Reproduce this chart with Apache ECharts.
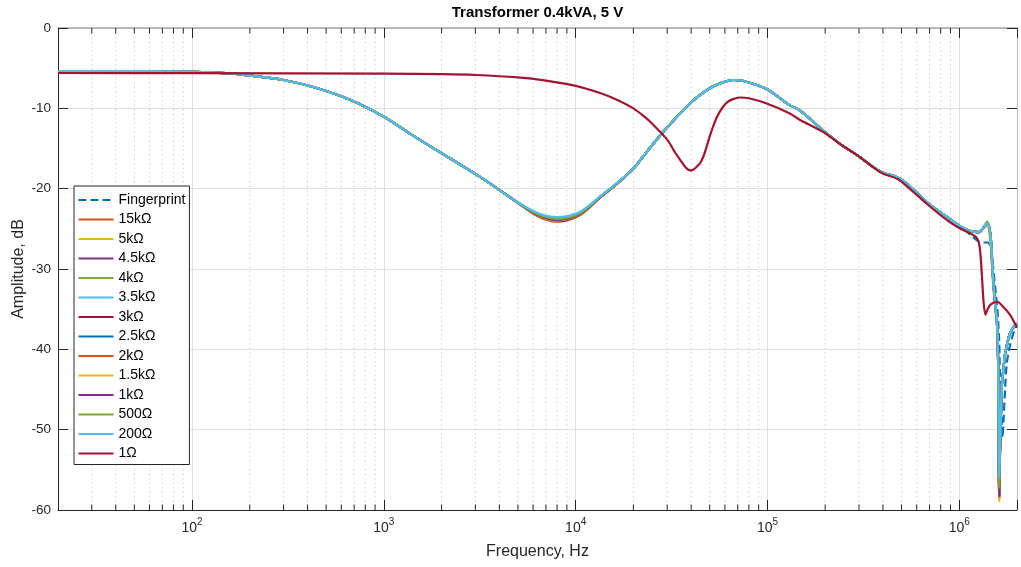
<!DOCTYPE html>
<html>
<head>
<meta charset="utf-8">
<title>Transformer 0.4kVA, 5 V</title>
<script src="https://cdn.jsdelivr.net/npm/echarts@6/dist/echarts.min.js"></script>
<style>
  html, body { margin: 0; padding: 0; background: #ffffff; }
  #chart { width: 1021px; height: 567px; }
</style>
</head>
<body>
<div id="chart"></div>
<script>
// Frequency grid (Hz) shared by the fingerprint and the resistor sweep
const freqHz = [20, 60, 100, 150, 200, 300, 450, 670, 1000, 1400,
  2100, 3200, 4700, 6300, 8000, 10500, 13400, 16500, 20000, 23000,
  27500, 39400, 50000, 58000, 66000, 75000, 99000, 130000, 148000, 194000,
  237000, 292000, 390000, 477000, 540000, 686000, 873000, 1000000, 1150000, 1270000,
  1350000, 1400000, 1450000, 1480000, 1510000, 1550000, 1580000, 1600000, 1615000, 1630000,
  1665000, 1680000, 1700000, 1733000, 1770000, 1840000, 1950000, 2000000];

// Amplitude (dB) per termination
const fingerprint = [-5.35, -5.38, -5.45, -5.62, -5.92, -6.47, -7.5, -8.96, -11.05, -13.3,
  -15.9, -18.6, -21.3, -23.2, -23.8, -23.1, -21.0, -19.3, -17.5, -15.7,
  -13.4, -9.4, -7.5, -6.8, -6.47, -6.6, -7.6, -9.6, -10.3, -12.7,
  -14.35, -15.8, -17.9, -18.6, -19.5, -21.8, -23.6, -24.6, -25.8, -26.6,
  -26.7, -26.7, -27.1, -28.2, -30.3, -33.0, -35.1, -37.0, -39.0, -43.0,
  -49.0, -51.0, -49.0, -45.0, -41.7, -39.5, -37.4, -37.0];
const r15k = [-5.35, -5.38, -5.45, -5.62, -5.92, -6.47, -7.5, -8.96, -11.05, -13.3,
  -15.9, -18.6, -21.3, -23.4, -24.1, -23.3, -21.1, -19.35, -17.5, -15.7,
  -13.4, -9.4, -7.5, -6.8, -6.47, -6.6, -7.6, -9.6, -10.3, -12.7,
  -14.35, -15.8, -17.9, -18.6, -19.5, -21.8, -23.6, -24.6, -25.3, -25.4,
  -24.8, -24.5, -25.7, -29.2, -32.5, -35.3, -37.8, -44.5, -58.4, -53.0,
  -44.8, -43.7, -42.5, -40.7, -39.6, -38.0, -37.0, -36.8];
const r5k = [-5.35, -5.38, -5.45, -5.62, -5.92, -6.47, -7.5, -8.96, -11.05, -13.3,
  -15.9, -18.6, -21.3, -23.35, -24.05, -23.3, -21.1, -19.35, -17.5, -15.7,
  -13.4, -9.4, -7.5, -6.8, -6.47, -6.6, -7.6, -9.6, -10.3, -12.7,
  -14.35, -15.8, -17.9, -18.6, -19.5, -21.8, -23.6, -24.6, -25.3, -25.4,
  -24.8, -24.5, -25.8, -29.5, -32.6, -35.3, -37.8, -44.5, -58.6, -53.0,
  -44.8, -43.7, -42.5, -40.7, -39.6, -38.0, -37.0, -36.8];
const r4k5 = [-5.35, -5.38, -5.45, -5.62, -5.92, -6.47, -7.5, -8.96, -11.05, -13.3,
  -15.9, -18.6, -21.3, -23.3, -24.0, -23.25, -21.1, -19.35, -17.5, -15.7,
  -13.4, -9.4, -7.5, -6.8, -6.47, -6.6, -7.6, -9.6, -10.3, -12.7,
  -14.35, -15.8, -17.9, -18.6, -19.5, -21.8, -23.6, -24.6, -25.3, -25.4,
  -24.7, -24.3, -25.5, -28.5, -32.0, -35.0, -37.5, -44.2, -58.0, -52.8,
  -44.7, -43.6, -42.4, -40.6, -39.5, -38.0, -37.0, -36.8];
const r4k = [-5.35, -5.38, -5.45, -5.62, -5.92, -6.47, -7.5, -8.96, -11.05, -13.3,
  -15.9, -18.6, -21.3, -23.3, -23.95, -23.2, -21.05, -19.3, -17.5, -15.7,
  -13.4, -9.4, -7.5, -6.8, -6.47, -6.6, -7.6, -9.6, -10.3, -12.7,
  -14.35, -15.8, -17.9, -18.6, -19.5, -21.8, -23.6, -24.6, -25.3, -25.4,
  -24.7, -24.2, -25.5, -28.5, -32.0, -35.0, -37.5, -44.2, -57.8, -52.7,
  -44.7, -43.6, -42.4, -40.6, -39.5, -38.0, -37.0, -36.8];
const r3k5 = [-5.35, -5.38, -5.45, -5.62, -5.92, -6.47, -7.5, -8.96, -11.05, -13.3,
  -15.9, -18.6, -21.3, -23.2, -23.8, -23.1, -21.0, -19.3, -17.5, -15.7,
  -13.4, -9.4, -7.5, -6.8, -6.47, -6.6, -7.6, -9.6, -10.3, -12.7,
  -14.35, -15.8, -17.9, -18.6, -19.5, -21.8, -23.6, -24.6, -25.3, -25.4,
  -24.7, -24.3, -25.5, -28.5, -32.0, -35.0, -37.5, -44.1, -57.0, -52.3,
  -44.6, -43.6, -42.4, -40.6, -39.5, -38.0, -37.0, -36.8];
const r3k = [-5.35, -5.38, -5.45, -5.62, -5.92, -6.47, -7.5, -8.96, -11.05, -13.3,
  -15.9, -18.6, -21.3, -23.35, -24.05, -23.25, -21.1, -19.35, -17.5, -15.7,
  -13.4, -9.4, -7.5, -6.8, -6.47, -6.6, -7.6, -9.6, -10.3, -12.7,
  -14.35, -15.8, -17.9, -18.6, -19.5, -21.8, -23.6, -24.6, -25.3, -25.4,
  -24.7, -24.3, -25.5, -28.5, -32.0, -35.0, -37.5, -44.2, -58.2, -52.8,
  -44.7, -43.6, -42.4, -40.6, -39.5, -38.0, -37.0, -36.8];
const r2k5 = [-5.35, -5.38, -5.45, -5.62, -5.92, -6.47, -7.5, -8.96, -11.05, -13.3,
  -15.9, -18.6, -21.3, -23.3, -24.0, -23.2, -21.1, -19.35, -17.5, -15.7,
  -13.4, -9.4, -7.5, -6.8, -6.47, -6.6, -7.6, -9.6, -10.3, -12.7,
  -14.35, -15.8, -17.9, -18.6, -19.5, -21.8, -23.6, -24.6, -25.3, -25.4,
  -24.7, -24.3, -25.5, -28.5, -32.0, -35.0, -37.5, -44.2, -58.4, -52.9,
  -44.7, -43.6, -42.4, -40.6, -39.5, -38.0, -37.0, -36.8];
const r2k = [-5.35, -5.38, -5.45, -5.62, -5.92, -6.47, -7.5, -8.96, -11.05, -13.3,
  -15.9, -18.6, -21.3, -23.3, -24.0, -23.2, -21.1, -19.35, -17.5, -15.7,
  -13.4, -9.4, -7.5, -6.8, -6.47, -6.6, -7.6, -9.6, -10.3, -12.7,
  -14.35, -15.8, -17.9, -18.6, -19.5, -21.8, -23.6, -24.6, -25.3, -25.4,
  -24.7, -24.3, -25.5, -28.5, -32.0, -35.0, -37.5, -44.2, -58.5, -53.0,
  -44.7, -43.6, -42.4, -40.6, -39.5, -38.0, -37.0, -36.8];
const r1k5 = [-5.35, -5.38, -5.45, -5.62, -5.92, -6.47, -7.5, -8.96, -11.05, -13.3,
  -15.9, -18.6, -21.3, -23.3, -23.95, -23.2, -21.05, -19.3, -17.5, -15.7,
  -13.4, -9.4, -7.5, -6.8, -6.47, -6.6, -7.6, -9.6, -10.3, -12.7,
  -14.35, -15.8, -17.9, -18.6, -19.5, -21.8, -23.6, -24.6, -25.3, -25.4,
  -24.7, -24.3, -26.5, -29.0, -32.3, -35.2, -37.7, -44.4, -58.9, -53.2,
  -44.8, -43.7, -42.5, -40.7, -39.6, -38.0, -37.0, -36.8];
const r1k = [-5.35, -5.38, -5.45, -5.62, -5.92, -6.47, -7.5, -8.96, -11.05, -13.3,
  -15.9, -18.6, -21.3, -23.25, -23.9, -23.15, -21.05, -19.3, -17.5, -15.7,
  -13.4, -9.4, -7.5, -6.8, -6.47, -6.6, -7.6, -9.6, -10.3, -12.7,
  -14.35, -15.8, -17.9, -18.6, -19.5, -21.8, -23.6, -24.6, -25.3, -25.4,
  -24.7, -24.3, -25.5, -28.5, -32.0, -35.0, -37.5, -44.2, -58.3, -53.0,
  -44.7, -43.6, -42.4, -40.6, -39.5, -38.0, -37.0, -36.8];
const r500 = [-5.35, -5.38, -5.45, -5.62, -5.92, -6.47, -7.5, -8.96, -11.05, -13.3,
  -15.9, -18.6, -21.3, -23.15, -23.75, -23.05, -21.0, -19.3, -17.5, -15.7,
  -13.4, -9.4, -7.5, -6.8, -6.47, -6.6, -7.6, -9.6, -10.3, -12.7,
  -14.35, -15.8, -17.9, -18.6, -19.5, -21.8, -23.6, -24.6, -25.3, -25.4,
  -24.6, -24.1, -25.5, -28.5, -32.0, -35.0, -37.5, -44.1, -57.3, -52.5,
  -44.6, -43.6, -42.4, -40.6, -39.5, -38.0, -37.0, -36.8];
const r200 = [-5.35, -5.38, -5.45, -5.62, -5.92, -6.47, -7.5, -8.96, -11.05, -13.3,
  -15.9, -18.6, -21.3, -23.0, -23.55, -22.9, -21.0, -19.25, -17.5, -15.7,
  -13.4, -9.4, -7.5, -6.8, -6.47, -6.6, -7.6, -9.6, -10.3, -12.7,
  -14.35, -15.8, -17.9, -18.6, -19.5, -21.8, -23.6, -24.6, -25.3, -25.4,
  -24.7, -24.3, -25.5, -28.5, -32.0, -35.0, -37.5, -44.0, -56.0, -52.0,
  -44.6, -43.6, -42.4, -40.6, -39.5, -38.0, -37.0, -36.8];

// The 1 Ω (short) termination has its own frequency grid
const freq1Ohm = [20, 100, 1000, 2000, 3000, 5000, 7000, 10000, 13400, 16500,
  20000, 23000, 25000, 30000, 33000, 35500, 37000, 38000, 39100, 40300,
  41500, 43000, 44600, 46500, 48000, 50000, 52000, 55000, 58700, 62000,
  66000, 71800, 80000, 99000, 130000, 148000, 194000, 237000, 292000, 390000,
  477000, 540000, 686000, 873000, 1000000, 1150000, 1240000, 1280000, 1310000, 1340000,
  1370000, 1400000, 1460000, 1580000, 1665000, 1840000, 2000000];
const r1 = [-5.6, -5.62, -5.68, -5.75, -5.85, -6.15, -6.55, -7.2, -8.1, -8.95,
  -10.0, -11.1, -11.9, -13.9, -15.5, -16.6, -17.2, -17.5, -17.7, -17.72,
  -17.55, -17.2, -16.8, -15.9, -14.9, -13.5, -12.3, -10.9, -9.8, -9.2,
  -8.85, -8.65, -8.75, -9.4, -10.6, -11.45, -12.9, -14.4, -15.8, -18.0,
  -18.8, -19.8, -22.0, -24.0, -24.9, -25.6, -26.2, -27.4, -30.5, -34.2,
  -35.7, -35.1, -34.4, -34.1, -34.5, -35.7, -37.3];

const seriesNames = ['Fingerprint', '15kΩ', '5kΩ', '4.5kΩ', '4kΩ', '3.5kΩ', '3kΩ',
  '2.5kΩ', '2kΩ', '1.5kΩ', '1kΩ', '500Ω', '200Ω', '1Ω'];
const seriesValues = [fingerprint, r15k, r5k, r4k5, r4k, r3k5, r3k,
  r2k5, r2k, r1k5, r1k, r500, r200, r1];
const seriesFreqs = [freqHz, freqHz, freqHz, freqHz, freqHz, freqHz, freqHz,
  freqHz, freqHz, freqHz, freqHz, freqHz, freqHz, freq1Ohm];

// MATLAB-style colour order
const palette = ['#0072BD', '#D95319', '#EDB120', '#7E2F8E', '#77AC30', '#4DBEEE', '#A2142F'];

const FONT = '"Liberation Sans", Arial, Helvetica, sans-serif';
const INK = '#262626';
const F_MIN = 20, F_MAX = 2000000;

// Minor log ticks (2..9 × 10^k) inside the frequency range
const minorFreqs = [];
for (let d = 10; d <= 1e6; d *= 10) {
  for (let m = 2; m <= 9; m++) {
    const f = m * d;
    if (f > F_MIN && f < F_MAX) minorFreqs.push([f, -30]);
  }
}

const lineSeries = seriesNames.map((name, i) => ({
  name: name,
  type: 'line',
  xAxisIndex: 0,
  yAxisIndex: 0,
  symbol: 'none',
  showSymbol: false,
  smooth: 0.3,
  z: 3,
  clip: true,
  lineStyle: {
    color: palette[i % palette.length],
    width: 2.2,
    type: i === 0 ? [8, 4] : 'solid'
  },
  itemStyle: { color: palette[i % palette.length] },
  data: seriesFreqs[i].map((f, k) => [f, seriesValues[i][k]])
}));

const minorGrid = {
  type: 'custom',
  xAxisIndex: 0,
  yAxisIndex: 0,
  silent: true,
  z: 1,
  data: minorFreqs,
  renderItem: function (params, api) {
    const x = api.coord([api.value(0), api.value(1)])[0];
    const top = params.coordSys.y;
    const bottom = top + params.coordSys.height;
    return {
      type: 'group',
      children: [
        { type: 'line', shape: { x1: x, y1: top, x2: x, y2: bottom },
          style: { stroke: '#cfcfcf', lineWidth: 1, lineDash: [1.5, 3] } },
        { type: 'line', shape: { x1: x, y1: bottom, x2: x, y2: bottom - 5.5 },
          style: { stroke: INK, lineWidth: 1 } },
        { type: 'line', shape: { x1: x, y1: top, x2: x, y2: top + 5.5 },
          style: { stroke: INK, lineWidth: 1 } }
      ]
    };
  }
};

function decadeLabel(v) {
  const lg = Math.log10(v);
  const e = Math.round(lg);
  if (Math.abs(lg - e) > 1e-6) return '';
  return '{b|10}{s|' + e + '}';
}

const chart = echarts.init(document.getElementById('chart'), null, { renderer: 'canvas' });
chart.setOption({
  animation: false,
  backgroundColor: '#ffffff',
  graphic: [{
    type: 'text',
    x: 537.5,
    y: 13,
    style: {
      text: 'Transformer 0.4kVA, 5 V',
      textAlign: 'center',
      textVerticalAlign: 'middle',
      fill: '#000000',
      font: 'bold 15px ' + FONT
    }
  }],
  grid: { left: 58, right: 4, top: 28, bottom: 57, containLabel: false },
  legend: {
    orient: 'vertical',
    left: 74,
    top: 186,
    itemWidth: 35,
    itemHeight: 14,
    itemGap: 5.5,
    padding: [7, 4, 4, 3.5],
    backgroundColor: '#ffffff',
    borderColor: INK,
    borderWidth: 1,
    borderRadius: 0,
    selectedMode: false,
    itemStyle: { opacity: 0 },
    textStyle: { fontFamily: FONT, fontSize: 14, color: '#000000', lineHeight: 14 },
    data: seriesNames
  },
  xAxis: [{
    type: 'log',
    logBase: 10,
    min: F_MIN,
    max: F_MAX,
    position: 'bottom',
    name: 'Frequency, Hz',
    nameLocation: 'middle',
    nameGap: 34,
    nameMoveOverlap: false,
    nameTextStyle: { fontFamily: FONT, fontSize: 16, color: INK },
    axisLine: { show: true, onZero: false, lineStyle: { color: INK, width: 1 } },
    axisTick: { show: true, inside: true, length: 10, lineStyle: { color: INK } },
    axisLabel: {
      margin: 7,
      formatter: decadeLabel,
      rich: {
        b: { fontFamily: FONT, fontSize: 14, color: INK, lineHeight: 18, verticalAlign: 'bottom' },
        s: { fontFamily: FONT, fontSize: 10, color: INK, lineHeight: 10, verticalAlign: 'top' }
      }
    },
    splitLine: { show: true, lineStyle: { color: '#dfdfdf', width: 1 } },
    minorTick: { show: false },
    minorSplitLine: { show: false }
  }, {
    type: 'log',
    logBase: 10,
    min: F_MIN,
    max: F_MAX,
    position: 'top',
    axisLine: { show: true, onZero: false, lineStyle: { color: '#a6a6a6', width: 1.5 } },
    axisTick: { show: true, inside: true, length: 10, lineStyle: { color: INK } },
    axisLabel: { show: false },
    splitLine: { show: false }
  }],
  yAxis: [{
    type: 'value',
    min: -60,
    max: 0,
    interval: 10,
    position: 'left',
    name: 'Amplitude, dB',
    nameLocation: 'middle',
    nameGap: 31,
    nameMoveOverlap: false,
    nameTextStyle: { fontFamily: FONT, fontSize: 16, color: INK },
    axisLine: { show: true, onZero: false, lineStyle: { color: INK, width: 1 } },
    axisTick: { show: true, inside: true, length: 10, lineStyle: { color: INK } },
    axisLabel: { margin: 7, fontFamily: FONT, fontSize: 13.5, color: INK },
    splitLine: { show: true, lineStyle: { color: '#dfdfdf', width: 1 } }
  }, {
    type: 'value',
    min: -60,
    max: 0,
    interval: 10,
    position: 'right',
    axisLine: { show: true, onZero: false, lineStyle: { color: '#bdbdbd', width: 1 } },
    axisTick: { show: true, inside: true, length: 10, lineStyle: { color: INK } },
    axisLabel: { show: false },
    splitLine: { show: false }
  }],
  series: [minorGrid].concat(lineSeries)
});
</script>
</body>
</html>
